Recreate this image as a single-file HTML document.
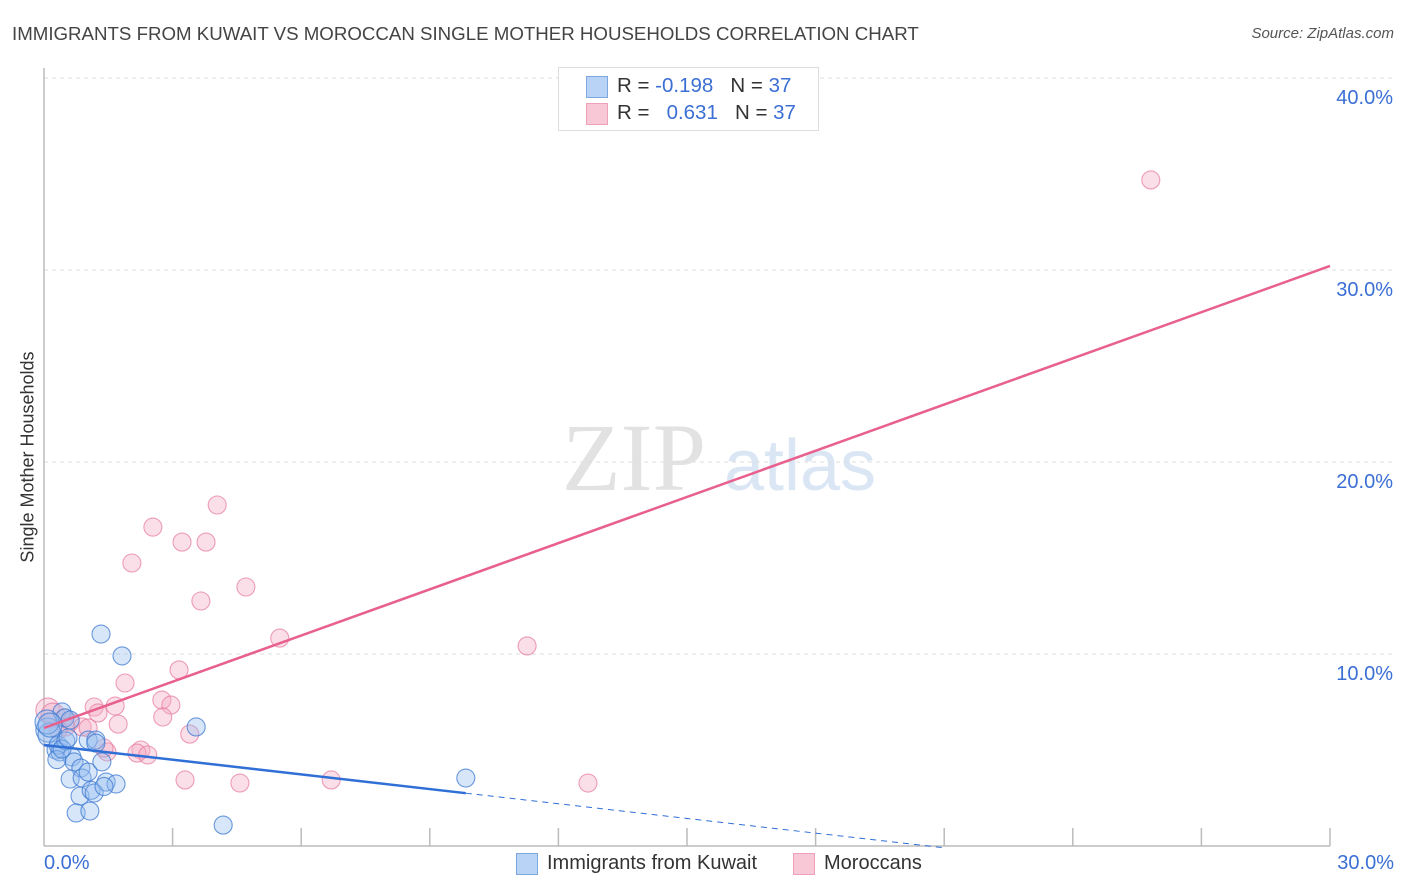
<!DOCTYPE html>
<html><head><meta charset="utf-8"><style>
body{margin:0;background:#fff;font-family:"Liberation Sans",sans-serif;}
#wrap{position:relative;width:1406px;height:892px;overflow:hidden;}
.t{position:absolute;white-space:nowrap;}
</style></head><body>
<div id="wrap">
<div class="t" style="left:12px;top:23px;font-size:18.7px;color:#444;">IMMIGRANTS FROM KUWAIT VS MOROCCAN SINGLE MOTHER HOUSEHOLDS CORRELATION CHART</div>
<div class="t" style="right:12px;top:25px;font-size:15px;color:#555;font-style:italic;">Source: ZipAtlas.com</div>
<svg id="svg" width="1406" height="892" style="position:absolute;left:0;top:0">
<text x="634" y="490" font-family="Liberation Serif" font-size="96" fill="#e2e2e2" text-anchor="middle">ZIP</text>
<text x="800" y="490" font-family="Liberation Sans" font-size="72" fill="#dbe6f5" text-anchor="middle">atlas</text>
</svg>
<div class="t" style="left:28px;top:457px;font-size:18px;color:#333;transform:translate(-50%,-50%) rotate(-90deg);">Single Mother Households</div>
<div style="position:absolute;left:558px;top:67px;width:259px;height:62px;border:1px solid #ddd;background:#fff;font-size:20.5px;">
 <div style="position:absolute;left:27px;top:8px;width:20px;height:20px;background:#b8d3f5;border:1px solid #7ea8e0;"></div>
 <div class="t" style="left:58px;top:6px;color:#333;">R = <span style="color:#3b6fd4">-0.198</span>&nbsp;&nbsp;&nbsp;N = <span style="color:#3b6fd4">37</span></div>
 <div style="position:absolute;left:27px;top:35px;width:20px;height:20px;background:#f9c8d6;border:1px solid #eea0b8;"></div>
 <div class="t" style="left:58px;top:33px;color:#333;">R = &nbsp;&nbsp;<span style="color:#3b6fd4">0.631</span>&nbsp;&nbsp;&nbsp;N = <span style="color:#3b6fd4">37</span></div>
</div>
<div class="t" style="left:44px;top:852px;font-size:20px;color:#3b6fd4;">0.0%</div>
<div class="t" style="right:12px;top:852px;font-size:20px;color:#3b6fd4;">30.0%</div>
<div style="position:absolute;left:516px;top:853px;">
 <div style="position:absolute;left:0;top:0;width:20px;height:20px;background:#b8d3f5;border:1px solid #7ea8e0;"></div>
 <div class="t" style="left:31px;top:-1px;font-size:20px;color:#333;">Immigrants from Kuwait</div>
</div>
<div style="position:absolute;left:793px;top:853px;">
 <div style="position:absolute;left:0;top:0;width:20px;height:20px;background:#f9c8d6;border:1px solid #eea0b8;"></div>
 <div class="t" style="left:31px;top:-1px;font-size:20px;color:#333;">Moroccans</div>
</div>
</div>
<script>
const yTicks=[10,20,30,40];
const yTickLabels=["10.0%","20.0%","30.0%","40.0%"];
const xTicks=[3,6,9,12,15,18,21,24,27,30];
const kuwaitX=[1.33,1.82,3.55,9.84,4.18,0.09,0.14,0.42,0.49,0.61,0.28,0.37,0.33,0.51,0.65,1.03,1.21,1.21,0.7,0.86,0.61,0.89,1.03,0.84,1.1,0.75,1.07,1.35,1.45,1.68,1.17,0.07,0.14,0.3,0.42,1.4,0.56];
const kuwaitY=[11.04,9.9,6.2,3.54,1.09,6.04,5.78,6.98,6.67,6.56,5.0,4.9,5.26,5.47,4.64,5.52,5.52,5.36,4.38,4.06,3.49,3.54,3.85,2.6,2.9,1.72,1.82,4.38,3.33,3.23,2.76,6.46,6.3,4.5,5.05,3.1,5.63];
const morX=[25.82,4.04,2.54,3.22,3.78,2.05,4.71,3.66,5.5,11.27,3.15,1.89,2.75,2.96,2.77,3.4,1.17,1.26,1.66,1.73,3.29,4.57,6.7,12.69,2.26,2.17,2.42,1.47,1.4,0.09,0.21,0.47,0.61,0.89,1.03,0.51,0.33];
const morY=[34.69,17.76,16.61,15.83,15.83,14.74,13.49,12.76,10.83,10.42,9.17,8.49,7.6,7.34,6.72,5.83,7.24,6.93,7.29,6.35,3.44,3.28,3.44,3.28,5.0,4.84,4.74,4.9,5.1,7.08,6.82,6.67,6.46,6.2,6.15,6.2,6.04];
const kuwaitFit=[5.26,-0.255]; const kuwaitSolidEnd=9.84; const kuwaitDashEnd=21;
const morFit=[6.15,0.802];
const X0=44,X1=1330,Y0=846,PY=19.2;
const xs=v=>X0+(X1-X0)*v/30, ys=v=>Y0-v*PY;
const svg=document.getElementById('svg');const NS='http://www.w3.org/2000/svg';
function mk(t,a){const e=document.createElementNS(NS,t);for(const k in a)e.setAttribute(k,a[k]);svg.appendChild(e);return e;}
yTicks.forEach((v,i)=>{
 const g=mk('line',{x1:X0,x2:1392,y1:ys(v),y2:ys(v),stroke:'#ddd','stroke-dasharray':'4,4'});
 
 
 const t=mk('text',{x:1393,y:ys(v)+26,'text-anchor':'end','font-size':20,fill:'#3b6fd4','font-family':'Liberation Sans'});
 t.textContent=yTickLabels[i];
 
 
});
const ax=mk('line',{x1:X0,x2:X0,y1:68,y2:Y0,stroke:'#bbb','stroke-width':1.5});


const bx=mk('line',{x1:X0,x2:X1,y1:Y0,y2:Y0,stroke:'#bbb','stroke-width':1.5});


xTicks.forEach(v=>{const l=mk('line',{x1:xs(v),x2:xs(v),y1:828,y2:Y0,stroke:'#bbb','stroke-width':1.5});
 
 });
function pts(X,Y,fill,stroke,name){X.forEach((x,i)=>{const r=(x<0.25)?12:9;
 const c=mk('circle',{cx:xs(x),cy:ys(Y[i]),r:r,fill:fill,stroke:stroke,'stroke-width':1.1});
 
 });}
pts(morX,morY,'rgba(245,170,195,0.38)','rgba(230,120,155,0.7)','moroccans-point');
pts(kuwaitX,kuwaitY,'rgba(150,190,240,0.38)','rgba(60,120,210,0.75)','kuwait-point');
const f=(p,x)=>p[0]+p[1]*x;
const kl=mk('line',{x1:xs(0),y1:ys(f(kuwaitFit,0)),x2:xs(kuwaitSolidEnd),y2:ys(f(kuwaitFit,kuwaitSolidEnd)),stroke:'#2f6fd6','stroke-width':2.5});


const kd=mk('line',{x1:xs(kuwaitSolidEnd),y1:ys(f(kuwaitFit,kuwaitSolidEnd)),x2:xs(kuwaitDashEnd),y2:ys(f(kuwaitFit,kuwaitDashEnd)),stroke:'#2f6fd6','stroke-width':1,'stroke-dasharray':'6,5'});


const ml=mk('line',{x1:xs(0),y1:ys(f(morFit,0)),x2:xs(30),y2:ys(f(morFit,30)),stroke:'#e8608e','stroke-width':2.5});


</script>
</body></html>
